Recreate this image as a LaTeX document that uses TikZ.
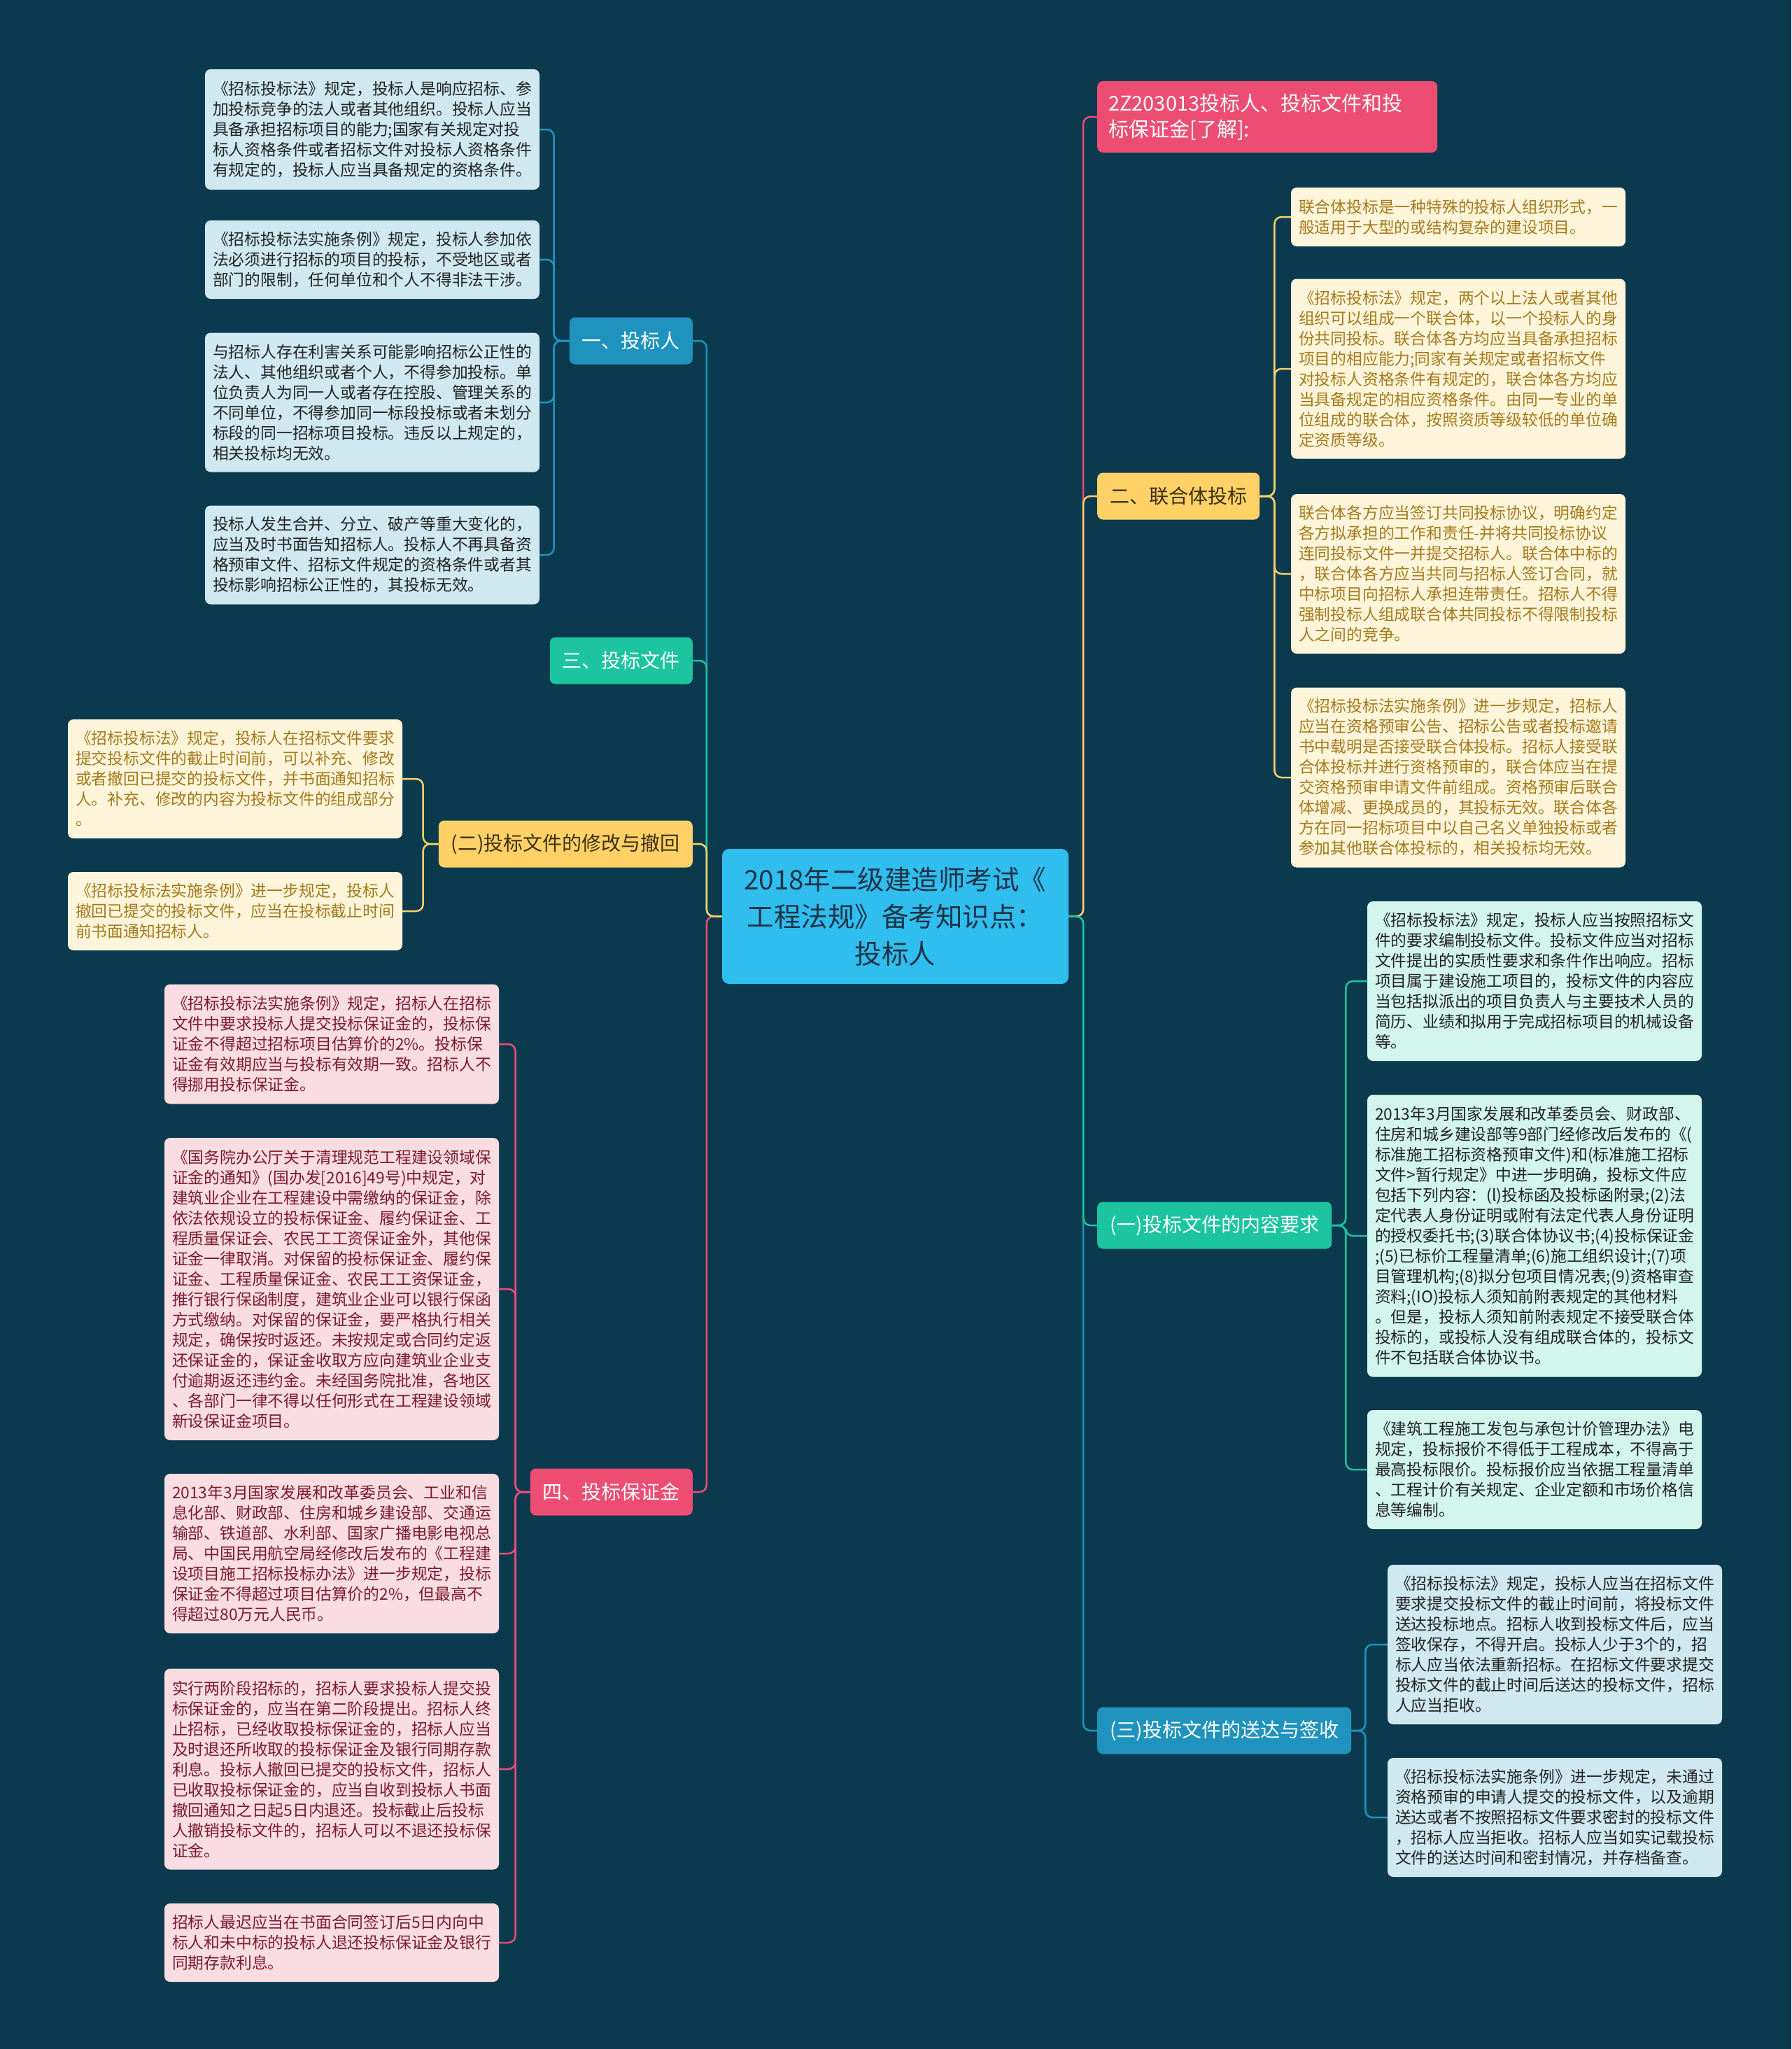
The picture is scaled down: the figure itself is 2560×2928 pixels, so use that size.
\documentclass[tikz,border=0pt]{standalone}
\usepackage{fontspec}
\setmainfont{Noto Sans CJK SC}
\usetikzlibrary{calc}
\definecolor{bg}{HTML}{0B3A4E}
\definecolor{cfill}{HTML}{30BEEE}
\definecolor{ctext}{HTML}{1E3348}
\definecolor{cblue}{HTML}{1F93BE}
\definecolor{cgreen}{HTML}{1CC4A0}
\definecolor{cyellow}{HTML}{FFD166}
\definecolor{cpink}{HTML}{EE4D73}
\definecolor{lbfill}{HTML}{D0E8F0}
\definecolor{lbtext}{HTML}{222222}
\definecolor{crfill}{HTML}{FFF5DB}
\definecolor{crtext}{HTML}{A47A1C}
\definecolor{pkfill}{HTML}{FADCE3}
\definecolor{pktext}{HTML}{7A1B2F}
\definecolor{mtfill}{HTML}{D2F6EC}
\definecolor{mttext}{HTML}{222222}
\definecolor{ytext}{HTML}{3C3010}
\tikzset{
  box/.style={rounded corners=8pt, text width=456pt, inner xsep=11pt, inner ysep=0pt, align=left, font=\fontsize{22.8pt}{29pt}\selectfont},
  bluebox/.style={box, fill=lbfill, text=lbtext},
  creambox/.style={box, fill=crfill, text=crtext},
  pinkbox/.style={box, fill=pkfill, text=pktext},
  mintbox/.style={box, fill=mtfill, text=mttext},
  branch/.style={rounded corners=8pt, inner xsep=18pt, inner ysep=0pt, minimum height=67pt, font=\fontsize{28pt}{36pt}\selectfont},
  conn/.style={line width=2.5pt, rounded corners=10pt},
}
\begin{document}
\begin{tikzpicture}[x=1pt,y=-1pt]
\useasboundingbox (0,0) rectangle (2560,2928);
\fill[bg] (0,0) rectangle (2560,2928);

% center
\node[fill=cfill, text=ctext, rounded corners=10pt, minimum width=495pt, minimum height=193pt, align=center, font=\fontsize{38.5pt}{53pt}\selectfont] (root) at (1279.5,1309.5) {2018年二级建造师考试《\\工程法规》备考知识点：\\投标人};

% left branches
\node[branch, fill=cblue, text=white, anchor=east] (b1) at (990,487) {一、投标人};
\node[branch, fill=cgreen, text=white, anchor=east] (b3) at (990,944) {三、投标文件};
\node[branch, fill=cyellow, text=ytext, anchor=east] (b2x) at (990,1206) {(二)投标文件的修改与撤回};
\node[branch, fill=cpink, text=white, anchor=east] (b4) at (990,2132) {四、投标保证金};

% right branches
\node[branch, fill=cpink, text=white, anchor=west, text width=454pt, inner xsep=16pt, align=left, minimum height=102pt, font=\fontsize{29pt}{37pt}\selectfont] (r0) at (1568,167) {2Z203013投标人、投标文件和投\\标保证金[了解]:};
\node[branch, fill=cyellow, text=ytext, anchor=west] (r2) at (1568,709) {二、联合体投标};
\node[branch, fill=cgreen, text=white, anchor=west] (r1x) at (1568,1751) {(一)投标文件的内容要求};
\node[branch, fill=cblue, text=white, anchor=west] (r3x) at (1568,2473) {(三)投标文件的送达与签收};

% 一 children
\node[bluebox, minimum height=172pt] (a1) at (532,185) {《招标投标法》规定，投标人是响应招标、参\\加投标竞争的法人或者其他组织。投标人应当\\具备承担招标项目的能力;国家有关规定对投\\标人资格条件或者招标文件对投标人资格条件\\有规定的，投标人应当具备规定的资格条件。};
\node[bluebox, minimum height=112pt] (a2) at (532,371) {《招标投标法实施条例》规定，投标人参加依\\法必须进行招标的项目的投标，不受地区或者\\部门的限制，任何单位和个人不得非法干涉。};
\node[bluebox, minimum height=199pt] (a3) at (532,575) {与招标人存在利害关系可能影响招标公正性的\\法人、其他组织或者个人，不得参加投标。单\\位负责人为同一人或者存在控股、管理关系的\\不同单位，不得参加同一标段投标或者未划分\\标段的同一招标项目投标。违反以上规定的，\\相关投标均无效。};
\node[bluebox, minimum height=141pt] (a4) at (532,793) {投标人发生合并、分立、破产等重大变化的，\\应当及时书面告知招标人。投标人不再具备资\\格预审文件、招标文件规定的资格条件或者其\\投标影响招标公正性的，其投标无效。};

% (二) children
\node[creambox, minimum height=170pt] (c1) at (336,1113) {《招标投标法》规定，投标人在招标文件要求\\提交投标文件的截止时间前，可以补充、修改\\或者撤回已提交的投标文件，并书面通知招标\\人。补充、修改的内容为投标文件的组成部分\\。};
\node[creambox, minimum height=112pt] (c2) at (336,1302) {《招标投标法实施条例》进一步规定，投标人\\撤回已提交的投标文件，应当在投标截止时间\\前书面通知招标人。};

% 四 children
\node[pinkbox, minimum height=171pt] (d1) at (474,1492) {《招标投标法实施条例》规定，招标人在招标\\文件中要求投标人提交投标保证金的，投标保\\证金不得超过招标项目估算价的2\%。投标保\\证金有效期应当与投标有效期一致。招标人不\\得挪用投标保证金。};
\node[pinkbox, minimum height=432pt] (d2) at (474,1842) {《国务院办公厅关于清理规范工程建设领域保\\证金的通知》(国办发[2016]49号)中规定，对\\建筑业企业在工程建设中需缴纳的保证金，除\\依法依规设立的投标保证金、履约保证金、工\\程质量保证会、农民工工资保证金外，其他保\\证金一律取消。对保留的投标保证金、履约保\\证金、工程质量保证金、农民工工资保证金，\\推行银行保函制度，建筑业企业可以银行保函\\方式缴纳。对保留的保证金，要严格执行相关\\规定，确保按时返还。未按规定或合同约定返\\还保证金的，保证金收取方应向建筑业企业支\\付逾期返还违约金。未经国务院批准，各地区\\、各部门一律不得以任何形式在工程建设领域\\新设保证金项目。};
\node[pinkbox, minimum height=228pt] (d3) at (474,2220) {2013年3月国家发展和改革委员会、工业和信\\息化部、财政部、住房和城乡建设部、交通运\\输部、铁道部、水利部、国家广播电影电视总\\局、中国民用航空局经修改后发布的《工程建\\设项目施工招标投标办法》进一步规定，投标\\保证金不得超过项目估算价的2\%，但最高不\\得超过80万元人民币。};
\node[pinkbox, minimum height=287pt] (d4) at (474,2528) {实行两阶段招标的，招标人要求投标人提交投\\标保证金的，应当在第二阶段提出。招标人终\\止招标，已经收取投标保证金的，招标人应当\\及时退还所收取的投标保证金及银行同期存款\\利息。投标人撤回已提交的投标文件，招标人\\已收取投标保证金的，应当自收到投标人书面\\撤回通知之日起5日内退还。投标截止后投标\\人撤销投标文件的，招标人可以不退还投标保\\证金。};
\node[pinkbox, minimum height=112pt] (d5) at (474,2776) {招标人最迟应当在书面合同签订后5日内向中\\标人和未中标的投标人退还投标保证金及银行\\同期存款利息。};

% 二 children
\node[creambox, minimum height=84pt] (e1) at (2084,310) {联合体投标是一种特殊的投标人组织形式，一\\般适用于大型的或结构复杂的建设项目。};
\node[creambox, minimum height=257pt] (e2) at (2084,527) {《招标投标法》规定，两个以上法人或者其他\\组织可以组成一个联合体，以一个投标人的身\\份共同投标。联合体各方均应当具备承担招标\\项目的相应能力;同家有关规定或者招标文件\\对投标人资格条件有规定的，联合体各方均应\\当具备规定的相应资格条件。由同一专业的单\\位组成的联合体，按照资质等级较低的单位确\\定资质等级。};
\node[creambox, minimum height=228pt] (e3) at (2084,820) {联合体各方应当签订共同投标协议，明确约定\\各方拟承担的工作和责任-并将共同投标协议\\连同投标文件一并提交招标人。联合体中标的\\，联合体各方应当共同与招标人签订合同，就\\中标项目向招标人承担连带责任。招标人不得\\强制投标人组成联合体共同投标不得限制投标\\人之间的竞争。};
\node[creambox, minimum height=257pt] (e4) at (2084,1111) {《招标投标法实施条例》进一步规定，招标人\\应当在资格预审公告、招标公告或者投标邀请\\书中载明是否接受联合体投标。招标人接受联\\合体投标并进行资格预审的，联合体应当在提\\交资格预审申请文件前组成。资格预审后联合\\体增减、更换成员的，其投标无效。联合体各\\方在同一招标项目中以自己名义单独投标或者\\参加其他联合体投标的，相关投标均无效。};

% (一) children
\node[mintbox, minimum height=228pt] (f1) at (2193,1402) {《招标投标法》规定，投标人应当按照招标文\\件的要求编制投标文件。投标文件应当对招标\\文件提出的实质性要求和条件作出响应。招标\\项目属于建设施工项目的，投标文件的内容应\\当包括拟派出的项目负责人与主要技术人员的\\简历、业绩和拟用于完成招标项目的机械设备\\等。};
\node[mintbox, minimum height=403pt] (f2) at (2193,1766) {2013年3月国家发展和改革委员会、财政部、\\住房和城乡建设部等9部门经修改后发布的《(\\标准施工招标资格预审文件)和(标准施工招标\\文件>暂行规定》中进一步明确，投标文件应\\包括下列内容：(l)投标函及投标函附录;(2)法\\定代表人身份证明或附有法定代表人身份证明\\的授权委托书;(3)联合体协议书;(4)投标保证金\\;(5)已标价工程量清单;(6)施工组织设计;(7)项\\目管理机构;(8)拟分包项目情况表;(9)资格审查\\资料;(IO)投标人须知前附表规定的其他材料\\。但是，投标人须知前附表规定不接受联合体\\投标的，或投标人没有组成联合体的，投标文\\件不包括联合体协议书。};
\node[mintbox, minimum height=170pt] (f3) at (2193,2100) {《建筑工程施工发包与承包计价管理办法》电\\规定，投标报价不得低于工程成本，不得高于\\最高投标限价。投标报价应当依据工程量清单\\、工程计价有关规定、企业定额和市场价格信\\息等编制。};

% (三) children
\node[bluebox, minimum height=228pt] (g1) at (2222,2350) {《招标投标法》规定，投标人应当在招标文件\\要求提交投标文件的截止时间前，将投标文件\\送达投标地点。招标人收到投标文件后，应当\\签收保存，不得开启。投标人少于3个的，招\\标人应当依法重新招标。在招标文件要求提交\\投标文件的截止时间后送达的投标文件，招标\\人应当拒收。};
\node[bluebox, minimum height=170pt] (g2) at (2222,2597) {《招标投标法实施条例》进一步规定，未通过\\资格预审的申请人提交的投标文件，以及逾期\\送达或者不按照招标文件要求密封的投标文件\\，招标人应当拒收。招标人应当如实记载投标\\文件的送达时间和密封情况，并存档备查。};

% root connectors (farthest first)
\draw[conn, cblue] (root.west) -- ++(-22,0) |- (b1.east);
\draw[conn, cgreen] (root.west) -- ++(-22,0) |- (b3.east);
\draw[conn, cpink] (root.west) -- ++(-22,0) |- (b4.east);
\draw[conn, cyellow] (root.west) -- ++(-22,0) |- (b2x.east);
\draw[conn, cpink] (root.east) -- ++(21,0) |- (r0.west);
\draw[conn, cblue] (root.east) -- ++(21,0) |- (r3x.west);
\draw[conn, cyellow] (root.east) -- ++(21,0) |- (r2.west);
\draw[conn, cgreen] (root.east) -- ++(21,0) |- (r1x.west);

% child connectors
\foreach \c in {a1,a2,a3,a4} \draw[conn, cblue] (b1.west) -- ++(-22,0) |- (\c.east);
\foreach \c in {c1,c2} \draw[conn, cyellow] (b2x.west) -- ++(-22,0) |- (\c.east);
\foreach \c in {d1,d2,d3,d4,d5} \draw[conn, cpink] (b4.west) -- ++(-21,0) |- (\c.east);
\foreach \c in {e1,e2,e3,e4} \draw[conn, cyellow] (r2.east) -- ++(21,0) |- (\c.west);
\foreach \c in {f1,f2,f3} \draw[conn, cgreen] (r1x.east) -- ++(20,0) |- (\c.west);
\foreach \c in {g1,g2} \draw[conn, cblue] (r3x.east) -- ++(20,0) |- (\c.west);
\end{tikzpicture}
\end{document}
